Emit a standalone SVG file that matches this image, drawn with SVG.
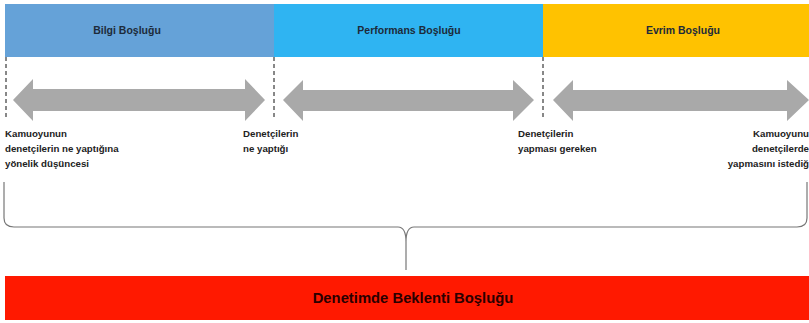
<svg xmlns="http://www.w3.org/2000/svg" width="809" height="323" viewBox="0 0 809 323">
<style>
.hdr{font-family:"Liberation Sans",Arial,sans-serif;font-weight:bold;font-size:10.5px;fill:#1d2b3a;text-anchor:middle}
.lbl{font-family:"Liberation Sans",Arial,sans-serif;font-weight:bold;font-size:9.7px;fill:#222}
.dash{stroke:#111;stroke-width:1;stroke-dasharray:4,3;fill:none}
.arr{fill:#a9a9a9}
</style>
<rect width="809" height="323" fill="#fff"/>
<g id="bilgi">
<rect x="5" y="4" width="269" height="53" fill="#65a2d8"/>
<text class="hdr" x="127" y="34">Bilgi Boşluğu</text>
</g>
<g id="performans">
<rect x="274" y="4" width="269" height="53" fill="#2fb4f2"/>
<text class="hdr" x="409" y="34">Performans Boşluğu</text>
</g>
<g id="evrim">
<rect x="543" y="4" width="266" height="53" fill="#ffc200"/>
<text class="hdr" x="683" y="34">Evrim Boşluğu</text>
</g>
<g id="connectors">
<line class="dash" x1="6" y1="57" x2="6" y2="119"/>
<line class="dash" x1="274" y1="57" x2="274" y2="119"/>
<line class="dash" x1="543" y1="57" x2="543" y2="119"/>
<polygon class="arr" points="13,100 33,79 33,89 245,89 245,79 265,100 245,121 245,111 33,111 33,121"/>
<polygon class="arr" points="283,100 303,80 303,90 513,90 513,80 534,100 513,121 513,111 303,111 303,121"/>
<polygon class="arr" points="553,100 573,80 573,90 787,90 787,80 809,100 787,121 787,111 573,111 573,121"/>
<path d="M4,182 L4,218 Q4,227 14,227 L398,227 Q406,227 406,242 L406,270 L406,242 Q406,227 414,227 L797,227 Q807,227 807,218 L807,182" fill="none" stroke="#777" stroke-width="1.2"/>
</g>
<g id="labels">
<text class="lbl" x="5" y="137">Kamuoyunun</text>
<text class="lbl" x="5" y="152">denetçilerin ne yaptığına</text>
<text class="lbl" x="5" y="167">yönelik düşüncesi</text>
<text class="lbl" x="243" y="137">Denetçilerin</text>
<text class="lbl" x="243" y="152">ne yaptığı</text>
<text class="lbl" x="518" y="137">Denetçilerin</text>
<text class="lbl" x="518" y="152">yapması gereken</text>
<text class="lbl" x="809" y="137" text-anchor="end">Kamuoyunu</text>
<text class="lbl" x="809" y="152" text-anchor="end">denetçilerde</text>
<text class="lbl" x="809" y="167" text-anchor="end">yapmasını istediğ</text>
</g>
<g id="beklenti">
<rect x="5" y="276" width="804" height="44" fill="#ff1900"/>
<text x="413" y="303" text-anchor="middle" font-family="Liberation Sans, Arial, sans-serif" font-weight="bold" font-size="14.8" fill="#2a0000">Denetimde Beklenti Boşluğu</text>
</g>
</svg>
